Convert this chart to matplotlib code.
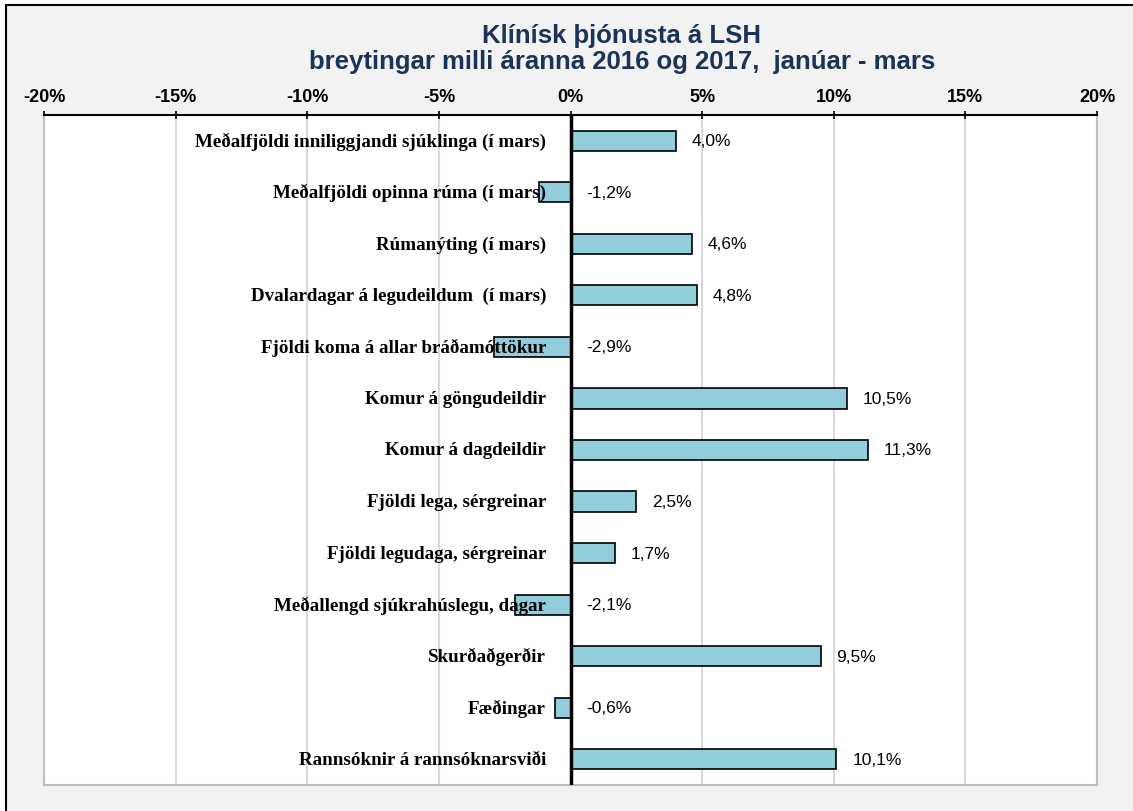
import matplotlib
matplotlib.use('Agg')
import matplotlib.pyplot as plt
from matplotlib.patches import Rectangle
from matplotlib.ticker import FuncFormatter

categories = [
    'Meðalfjöldi inniliggjandi sjúklinga (í mars)',
    'Meðalfjöldi opinna rúma (í mars)',
    'Rúmanýting (í mars)',
    'Dvalardagar á legudeildum  (í mars)',
    'Fjöldi koma á allar bráðamóttökur',
    'Komur á göngudeildir',
    'Komur á dagdeildir',
    'Fjöldi lega, sérgreinar',
    'Fjöldi legudaga, sérgreinar',
    'Meðallengd sjúkrahúslegu, dagar',
    'Skurðaðgerðir',
    'Fæðingar',
    'Rannsóknir á rannsóknarsviði',
]
changes = [4.0, -1.2, 4.6, 4.8, -2.9, 10.5, 11.3, 2.5, 1.7, -2.1, 9.5, -0.6, 10.1]
xticks = [-20, -15, -10, -5, 0, 5, 10, 15, 20]
title = 'Klínísk þjónusta á LSH\nbreytingar milli áranna 2016 og 2017,  janúar - mars'

W, H = 1133, 812
fig = plt.figure(figsize=(W / 100, H / 100), dpi=100, facecolor='white')

# grey chart area with black border (cut off at right/bottom like the original)
fig.patches.append(Rectangle((6 / W, -0.05), 1.2, (H - 6) / H + 0.05, transform=fig.transFigure,
                             facecolor='#F2F2F2', edgecolor='black', lw=1.5, zorder=-10))

ax = fig.add_axes([44 / W, 1 - 786 / H, (1097 - 44) / W, (786 - 116) / H])
ax.set_facecolor('white')

y = list(range(len(categories)))
ax.barh(y, changes, height=0.39, color='#92CDDC', edgecolor='black', linewidth=1.2, zorder=3)
ax.axvline(0, color='black', lw=2.5, zorder=4)

for yi, cat, v in zip(y, categories, changes):
    ax.text(-0.93, yi, cat, ha='right', va='center', fontsize=13.7, fontweight='bold',
            family='Liberation Serif', color='black', zorder=5)
    ax.text(max(v, 0) + 0.6, yi, ('%.1f%%' % v).replace('.', ','), ha='left', va='center',
            fontsize=12.5, family='Liberation Sans', color='black', zorder=5)

ax.set_xlim(-20, 20)
ax.set_ylim(len(categories) - 0.5, -0.5)
ax.set_yticks([])
ax.set_xticks(xticks)
ax.xaxis.set_major_formatter(FuncFormatter(lambda v, p: '%d%%' % v))
ax.xaxis.tick_top()
ax.tick_params(axis='x', direction='inout', length=6, width=1.2, pad=4, labelsize=13)
for lab in ax.get_xticklabels():
    lab.set_fontweight('bold')
    lab.set_family('Liberation Sans')
ax.grid(axis='x', color='#D9D9D9', lw=1.5, zorder=0)

for s in ['left', 'right', 'bottom']:
    ax.spines[s].set_color('#BFBFBF')
    ax.spines[s].set_linewidth(1.5)
ax.spines['top'].set_color('black')
ax.spines['top'].set_linewidth(1.5)

fig.text(622 / W, 1 - 49 / H, title, ha='center', va='center', fontsize=18.5, fontweight='bold',
         family='Liberation Sans', color='#1A3356', linespacing=1.15)

fig.savefig('out.png', dpi=100, facecolor=fig.get_facecolor())
